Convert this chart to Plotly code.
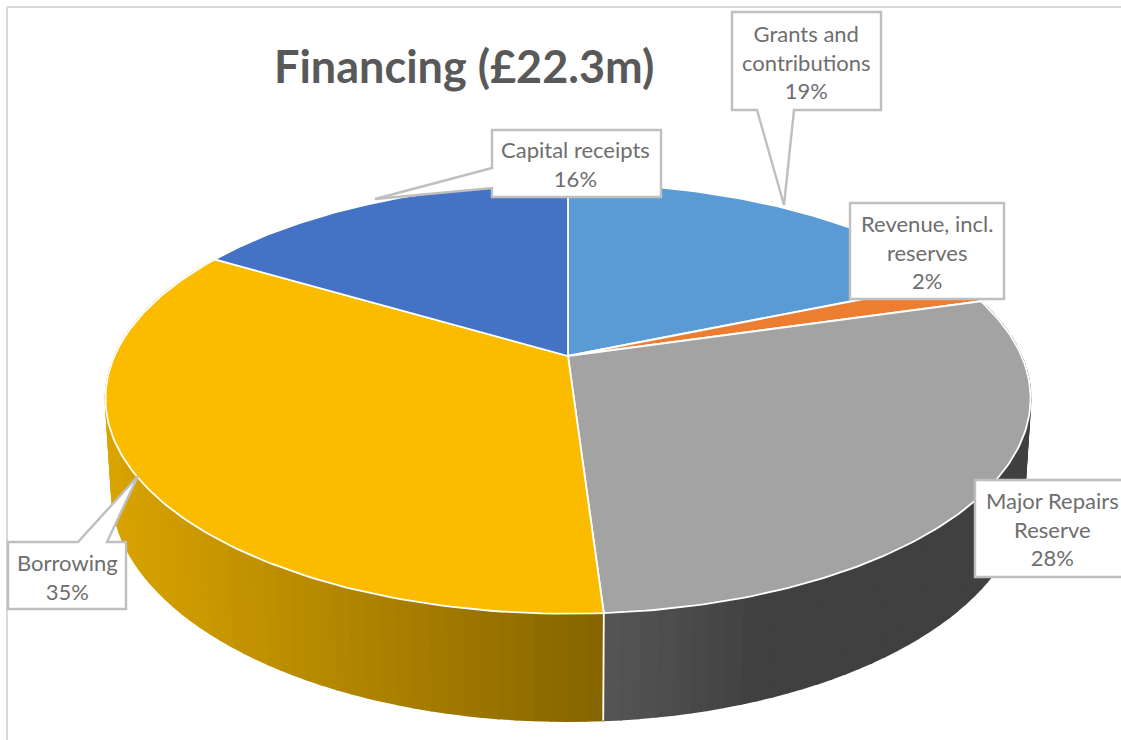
import numpy as np
import plotly.graph_objects as go

# ---- data ----
categories = ["Grants and contributions", "Revenue, incl. reserves", "Major Repairs Reserve", "Borrowing", "Capital receipts"]
values = [18.6, 1.9, 28.49, 34.6, 16.41]
colors = ["#5B9BD5", "#ED7D31", "#A3A3A3", "#FBBC00", "#4472C4"]
label_lines = ["Grants and<br>contributions<br>19%", "Revenue, incl.<br>reserves<br>2%",
               "Major Repairs<br>Reserve<br>28%", "Borrowing<br>35%", "Capital receipts<br>16%"]

# ---- pie projection (perspective view of a tilted cylinder) ----
CX, CY = 568.0, 356.0
A, B, K = 453.5, 207.0, 0.197
M, N = 0.013, 91.0


def project(theta, drop=False):
    X, Y = np.sin(theta), np.cos(theta)
    if drop:
        w = 1 + K * Y + M
        return CX + A * X / w, CY - (B * Y - N) / w
    w = 1 + K * Y
    return CX + A * X / w, CY - B * Y / w


def gold_side(x):
    t = np.clip((x - 107) / (603 - 107), 0, 1)
    f = 0.855 + (0.525 - 0.855) * t
    return f"rgb({255 * f:.0f},{192 * f:.0f},0)"


def grey_side(x):
    t = np.clip((x - 603) / (760 - 603), 0, 1)
    v = 86 + (64 - 86) * t
    return f"rgb({v:.0f},{v:.0f},{v:.0f})"


side_shade = {"Major Repairs Reserve": grey_side, "Borrowing": gold_side}

total = sum(values)
edges = np.concatenate([[0], np.cumsum(values)]) / total * 2 * np.pi

fig = go.Figure()

# extruded side, as thin shaded strips
for i, cat in enumerate(categories):
    if cat not in side_shade:
        continue
    n = max(2, int((edges[i + 1] - edges[i]) / np.radians(1.8)))
    th = np.linspace(edges[i], edges[i + 1], n + 1)
    for a, b in zip(th[:-1], th[1:]):
        tx = np.linspace(a, b, 3)
        x1, y1 = project(tx)
        x2, y2 = project(tx[::-1], drop=True)
        xs = np.concatenate([x1, x2, x1[:1]])
        ys = np.concatenate([y1, y2, y1[:1]])
        c = side_shade[cat](float(xs.mean()))
        fig.add_trace(go.Scatter(x=xs, y=ys, mode="lines", fill="toself", fillcolor=c,
                                 line=dict(color=c, width=1.6), hoverinfo="skip", showlegend=False))

# white seam between the two visible side walls
seam = edges[3]
sx = [project(seam)[0], project(seam, drop=True)[0]]
sy = [project(seam)[1], project(seam, drop=True)[1]]
fig.add_trace(go.Scatter(x=sx, y=sy, mode="lines", line=dict(color="white", width=1.8),
                         hoverinfo="skip", showlegend=False))

# top face
for i, cat in enumerate(categories):
    th = np.linspace(edges[i], edges[i + 1], 120)
    x, y = project(th)
    xs = np.concatenate([[CX], x, [CX]])
    ys = np.concatenate([[CY], y, [CY]])
    fig.add_trace(go.Scatter(x=xs, y=ys, mode="lines", fill="toself", fillcolor=colors[i], name=cat,
                             line=dict(color="white", width=1.8), hoverinfo="name", showlegend=False))

BORDER = "#BFBFBF"
# label boxes with callout tails: path, text centre
boxes = [
    ("M732,12 L881,12 L881,110 L794,110 L784,205 L757,110 L732,110 Z", 806, 62),
    ("M850,203 L1004,203 L1004,299 L850,299 Z", 927, 252),
    ("M975,480 L1125,480 L1125,577 L975,577 Z", 1052, 529),
    ("M8,542 L78,542 L138,476 L107,542 L126,542 L126,609 L8,609 Z", 67, 577),
    ("M492,130 L661,130 L661,197 L492,197 L492,188 L375,199 L492,168 Z", 575, 164),
]
shapes = [
    dict(type="line", x0=7, y0=7, x1=1121, y1=7, line=dict(color="#D9D9D9", width=2)),
    dict(type="line", x0=7, y0=7, x1=7, y1=740, line=dict(color="#D9D9D9", width=2)),
]
annotations = [dict(text="<b>Financing (£22.3m)</b>", x=464, y=66, showarrow=False,
                    font=dict(family="Lato", size=45, color="#595959"))]
for (path, tx, ty), text in zip(boxes, label_lines):
    shapes.append(dict(type="path", path=path, fillcolor="white", line=dict(color=BORDER, width=2.4), layer="above"))
    annotations.append(dict(text=text, x=tx, y=ty, showarrow=False, align="center",
                            font=dict(family="Lato", size=22, color="#6E6E6E")))

fig.update_layout(
    width=1121, height=740, margin=dict(l=0, r=0, t=0, b=0),
    paper_bgcolor="white", plot_bgcolor="white", showlegend=False,
    xaxis=dict(range=[0, 1121], visible=False, fixedrange=True),
    yaxis=dict(range=[740, 0], visible=False, fixedrange=True),
    shapes=shapes, annotations=annotations,
)
fig.write_html("out.html", config={"displayModeBar": False},
               post_script="document.body.style.margin='0';document.body.style.overflow='hidden';")
